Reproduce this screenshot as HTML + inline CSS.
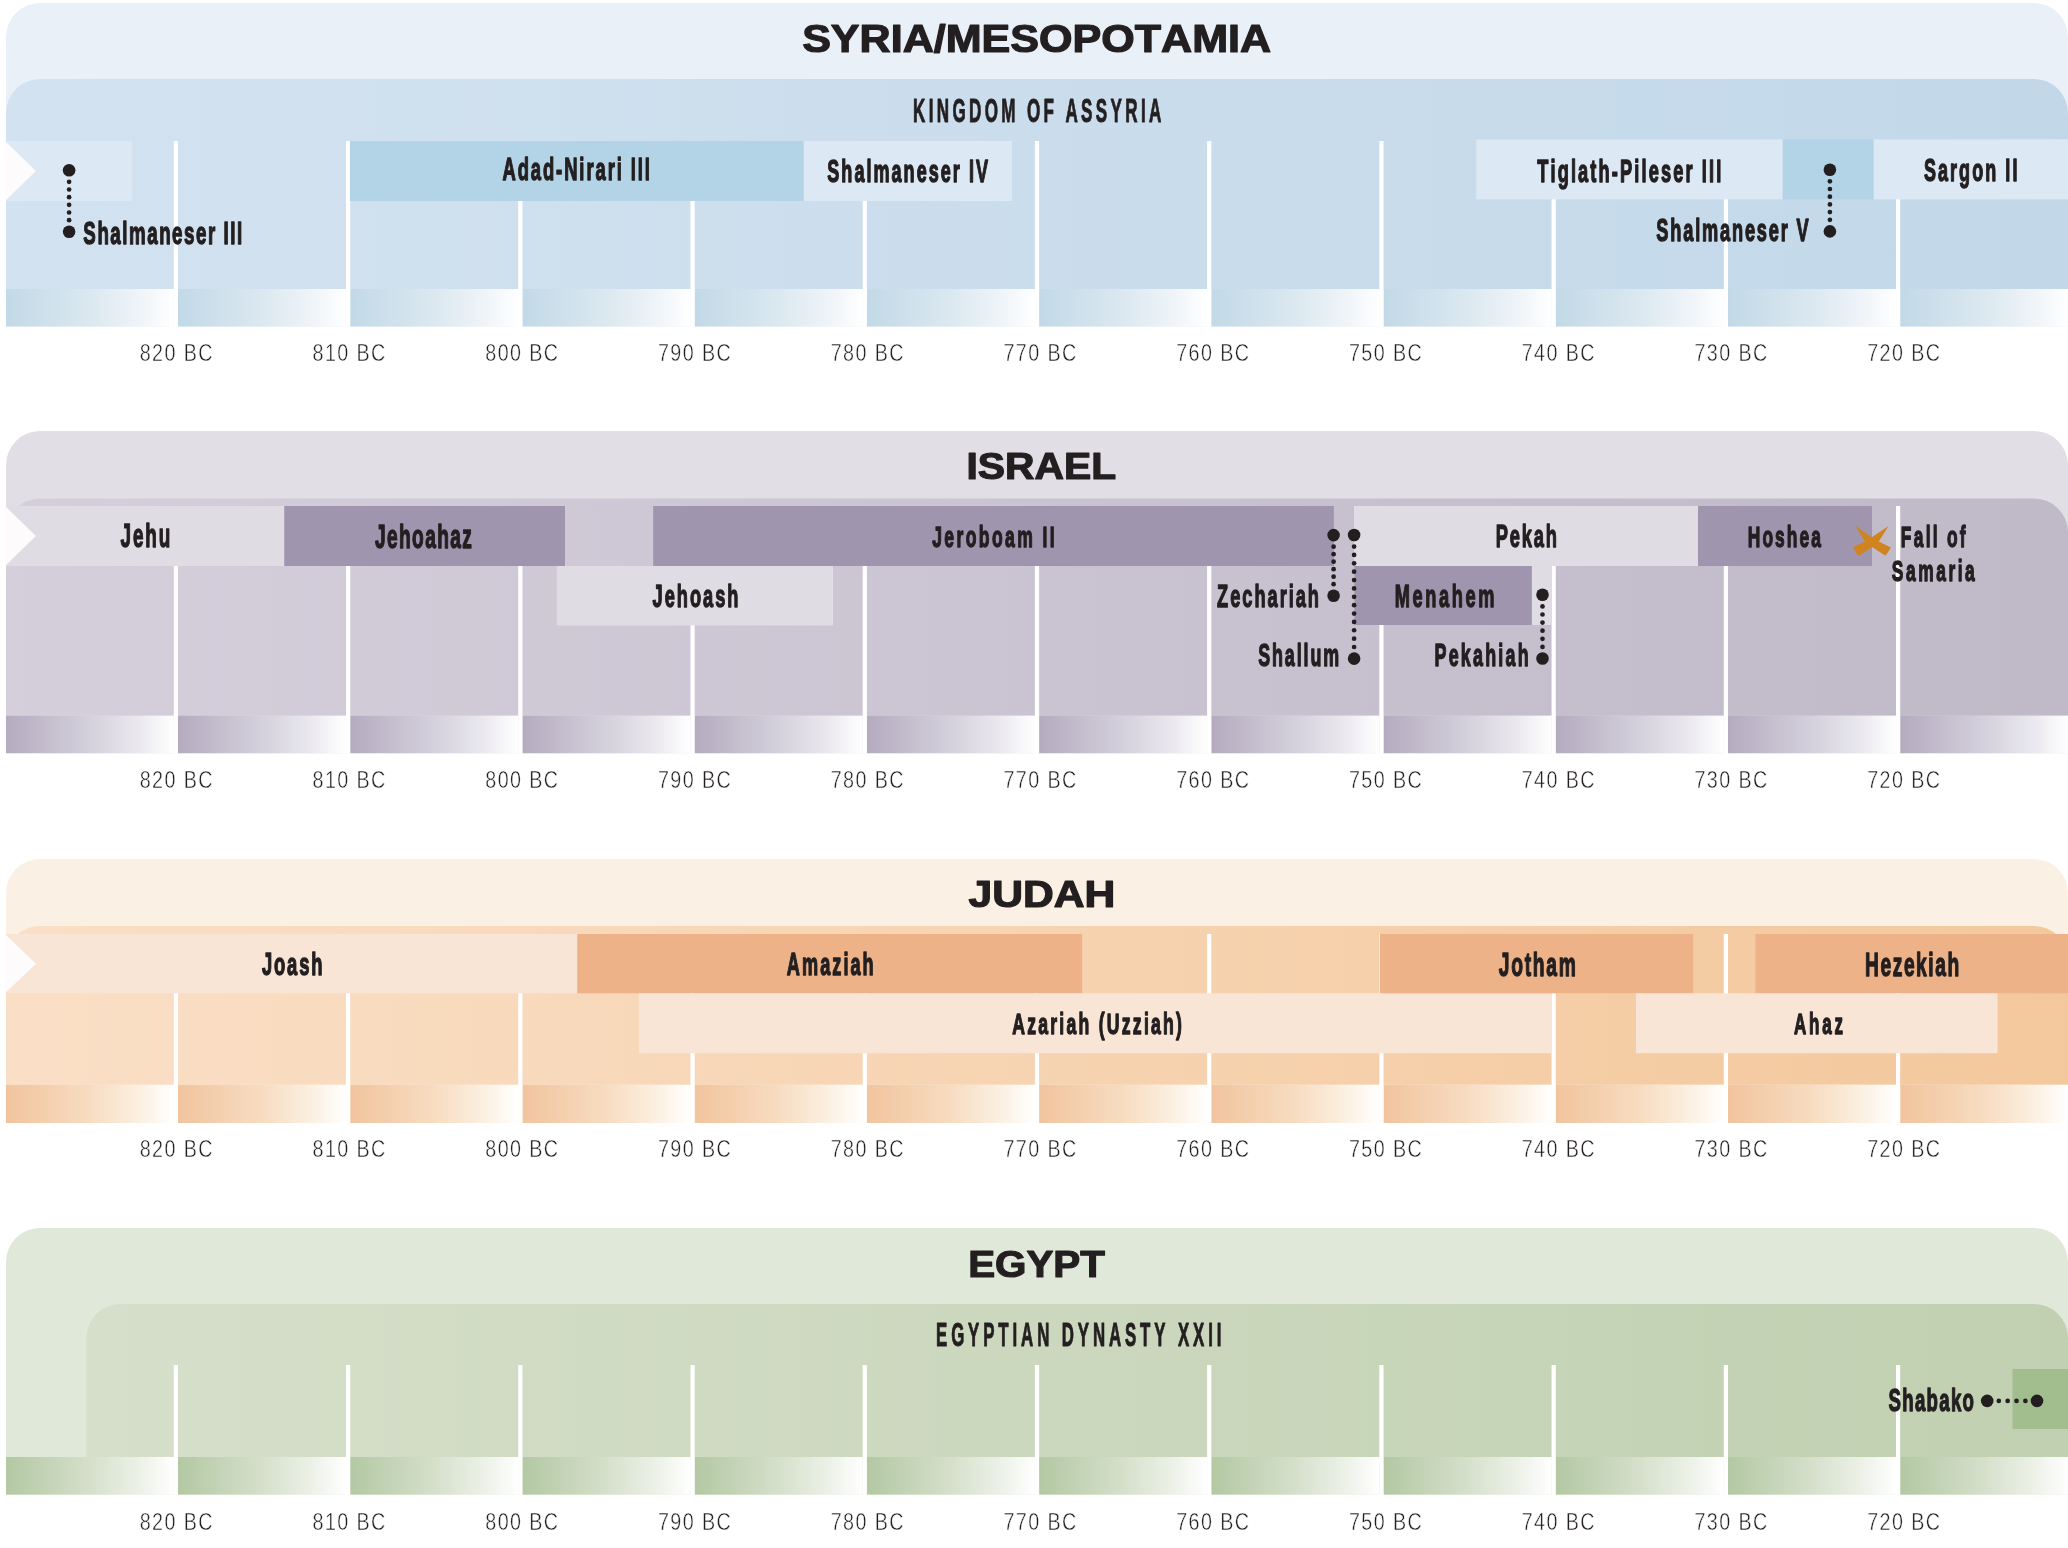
<!DOCTYPE html>
<html><head><meta charset="utf-8"><title>Timeline</title>
<style>html,body{margin:0;padding:0;background:#fff;} svg{display:block;will-change:transform;} text{font-family:"Liberation Sans",sans-serif;}</style>
</head><body>
<svg width="2068" height="1548" viewBox="0 0 2068 1548"><defs><linearGradient id="in_syria" x1="0" y1="0" x2="1" y2="0"><stop offset="0" stop-color="#d3e2f0"/><stop offset="1" stop-color="#c2d8e9"/></linearGradient><linearGradient id="st_syria" x1="0" y1="0" x2="1" y2="0"><stop offset="0" stop-color="#c2d9e7"/><stop offset="0.5" stop-color="#dbe8f0"/><stop offset="0.8" stop-color="#eff4f8"/><stop offset="1" stop-color="#ffffff"/></linearGradient><linearGradient id="in_israel" x1="0" y1="0" x2="1" y2="0"><stop offset="0" stop-color="#d5cfdc"/><stop offset="1" stop-color="#bfb9c8"/></linearGradient><linearGradient id="st_israel" x1="0" y1="0" x2="1" y2="0"><stop offset="0" stop-color="#b4abbf"/><stop offset="0.5" stop-color="#d4d0dc"/><stop offset="0.8" stop-color="#ebe9ef"/><stop offset="1" stop-color="#ffffff"/></linearGradient><linearGradient id="in_judah" x1="0" y1="0" x2="1" y2="0"><stop offset="0" stop-color="#fadfc6"/><stop offset="1" stop-color="#f3c89c"/></linearGradient><linearGradient id="st_judah" x1="0" y1="0" x2="1" y2="0"><stop offset="0" stop-color="#f1c49d"/><stop offset="0.5" stop-color="#f7dcc1"/><stop offset="0.8" stop-color="#fbf0e1"/><stop offset="1" stop-color="#ffffff"/></linearGradient><linearGradient id="in_egypt" x1="0" y1="0" x2="1" y2="0"><stop offset="0" stop-color="#d6dfca"/><stop offset="1" stop-color="#c0d0b0"/></linearGradient><linearGradient id="st_egypt" x1="0" y1="0" x2="1" y2="0"><stop offset="0" stop-color="#b3c8a3"/><stop offset="0.5" stop-color="#d5e0cb"/><stop offset="0.8" stop-color="#edf1e8"/><stop offset="1" stop-color="#ffffff"/></linearGradient></defs><rect width="2068" height="1548" fill="#ffffff"/><g id="syria">
<path d="M6,326.5 L6,37 A34,34 0 0 1 40,3 L2034,3 A34,34 0 0 1 2068,37 L2068,326.5 Z" fill="#e9f0f8"/>
<path d="M6,289 L6,113 A34,34 0 0 1 40,79 L2034,79 A34,34 0 0 1 2068,113 L2068,289 Z" fill="url(#in_syria)"/>
<rect x="6.00" y="289.00" width="167.80" height="37.50" fill="url(#st_syria)"/>
<rect x="178.00" y="289.00" width="168.02" height="37.50" fill="url(#st_syria)"/>
<rect x="350.22" y="289.00" width="168.02" height="37.50" fill="url(#st_syria)"/>
<rect x="522.44" y="289.00" width="168.02" height="37.50" fill="url(#st_syria)"/>
<rect x="694.66" y="289.00" width="168.02" height="37.50" fill="url(#st_syria)"/>
<rect x="866.88" y="289.00" width="168.02" height="37.50" fill="url(#st_syria)"/>
<rect x="1039.10" y="289.00" width="168.02" height="37.50" fill="url(#st_syria)"/>
<rect x="1211.32" y="289.00" width="168.02" height="37.50" fill="url(#st_syria)"/>
<rect x="1383.54" y="289.00" width="168.02" height="37.50" fill="url(#st_syria)"/>
<rect x="1555.76" y="289.00" width="168.02" height="37.50" fill="url(#st_syria)"/>
<rect x="1727.98" y="289.00" width="168.02" height="37.50" fill="url(#st_syria)"/>
<rect x="1900.20" y="289.00" width="167.80" height="37.50" fill="url(#st_syria)"/>
<rect x="173.80" y="141.00" width="4.20" height="186.00" fill="#ffffff"/>
<rect x="346.02" y="141.00" width="4.20" height="186.00" fill="#ffffff"/>
<rect x="518.24" y="141.00" width="4.20" height="186.00" fill="#ffffff"/>
<rect x="690.46" y="141.00" width="4.20" height="186.00" fill="#ffffff"/>
<rect x="862.68" y="141.00" width="4.20" height="186.00" fill="#ffffff"/>
<rect x="1034.90" y="141.00" width="4.20" height="186.00" fill="#ffffff"/>
<rect x="1207.12" y="141.00" width="4.20" height="186.00" fill="#ffffff"/>
<rect x="1379.34" y="141.00" width="4.20" height="186.00" fill="#ffffff"/>
<rect x="1551.56" y="141.00" width="4.20" height="186.00" fill="#ffffff"/>
<rect x="1723.78" y="141.00" width="4.20" height="186.00" fill="#ffffff"/>
<rect x="1896.00" y="141.00" width="4.20" height="186.00" fill="#ffffff"/>
</g>
<g id="israel">
<path d="M6,753.2 L6,465 A34,34 0 0 1 40,431 L2034,431 A34,34 0 0 1 2068,465 L2068,753.2 Z" fill="#e1dee5"/>
<path d="M6,715.7 L6,532.5 A34,34 0 0 1 40,498.5 L2034,498.5 A34,34 0 0 1 2068,532.5 L2068,715.7 Z" fill="url(#in_israel)"/>
<rect x="6.00" y="715.70" width="167.80" height="37.50" fill="url(#st_israel)"/>
<rect x="178.00" y="715.70" width="168.02" height="37.50" fill="url(#st_israel)"/>
<rect x="350.22" y="715.70" width="168.02" height="37.50" fill="url(#st_israel)"/>
<rect x="522.44" y="715.70" width="168.02" height="37.50" fill="url(#st_israel)"/>
<rect x="694.66" y="715.70" width="168.02" height="37.50" fill="url(#st_israel)"/>
<rect x="866.88" y="715.70" width="168.02" height="37.50" fill="url(#st_israel)"/>
<rect x="1039.10" y="715.70" width="168.02" height="37.50" fill="url(#st_israel)"/>
<rect x="1211.32" y="715.70" width="168.02" height="37.50" fill="url(#st_israel)"/>
<rect x="1383.54" y="715.70" width="168.02" height="37.50" fill="url(#st_israel)"/>
<rect x="1555.76" y="715.70" width="168.02" height="37.50" fill="url(#st_israel)"/>
<rect x="1727.98" y="715.70" width="168.02" height="37.50" fill="url(#st_israel)"/>
<rect x="1900.20" y="715.70" width="167.80" height="37.50" fill="url(#st_israel)"/>
<rect x="173.80" y="506.00" width="4.20" height="247.70" fill="#ffffff"/>
<rect x="346.02" y="506.00" width="4.20" height="247.70" fill="#ffffff"/>
<rect x="518.24" y="506.00" width="4.20" height="247.70" fill="#ffffff"/>
<rect x="690.46" y="506.00" width="4.20" height="247.70" fill="#ffffff"/>
<rect x="862.68" y="506.00" width="4.20" height="247.70" fill="#ffffff"/>
<rect x="1034.90" y="506.00" width="4.20" height="247.70" fill="#ffffff"/>
<rect x="1207.12" y="506.00" width="4.20" height="247.70" fill="#ffffff"/>
<rect x="1379.34" y="506.00" width="4.20" height="247.70" fill="#ffffff"/>
<rect x="1551.56" y="506.00" width="4.20" height="247.70" fill="#ffffff"/>
<rect x="1723.78" y="506.00" width="4.20" height="247.70" fill="#ffffff"/>
<rect x="1896.00" y="506.00" width="4.20" height="247.70" fill="#ffffff"/>
</g>
<g id="judah">
<path d="M6,1123 L6,893 A34,34 0 0 1 40,859 L2034,859 A34,34 0 0 1 2068,893 L2068,1123 Z" fill="#faf0e3"/>
<path d="M6,1084.8 L6,960 A34,34 0 0 1 40,926 L2034,926 A34,34 0 0 1 2068,960 L2068,1084.8 Z" fill="url(#in_judah)"/>
<rect x="6.00" y="1084.80" width="167.80" height="38.20" fill="url(#st_judah)"/>
<rect x="178.00" y="1084.80" width="168.02" height="38.20" fill="url(#st_judah)"/>
<rect x="350.22" y="1084.80" width="168.02" height="38.20" fill="url(#st_judah)"/>
<rect x="522.44" y="1084.80" width="168.02" height="38.20" fill="url(#st_judah)"/>
<rect x="694.66" y="1084.80" width="168.02" height="38.20" fill="url(#st_judah)"/>
<rect x="866.88" y="1084.80" width="168.02" height="38.20" fill="url(#st_judah)"/>
<rect x="1039.10" y="1084.80" width="168.02" height="38.20" fill="url(#st_judah)"/>
<rect x="1211.32" y="1084.80" width="168.02" height="38.20" fill="url(#st_judah)"/>
<rect x="1383.54" y="1084.80" width="168.02" height="38.20" fill="url(#st_judah)"/>
<rect x="1555.76" y="1084.80" width="168.02" height="38.20" fill="url(#st_judah)"/>
<rect x="1727.98" y="1084.80" width="168.02" height="38.20" fill="url(#st_judah)"/>
<rect x="1900.20" y="1084.80" width="167.80" height="38.20" fill="url(#st_judah)"/>
<rect x="173.80" y="934.00" width="4.20" height="189.50" fill="#ffffff"/>
<rect x="346.02" y="934.00" width="4.20" height="189.50" fill="#ffffff"/>
<rect x="518.24" y="934.00" width="4.20" height="189.50" fill="#ffffff"/>
<rect x="690.46" y="934.00" width="4.20" height="189.50" fill="#ffffff"/>
<rect x="862.68" y="934.00" width="4.20" height="189.50" fill="#ffffff"/>
<rect x="1034.90" y="934.00" width="4.20" height="189.50" fill="#ffffff"/>
<rect x="1207.12" y="934.00" width="4.20" height="189.50" fill="#ffffff"/>
<rect x="1379.34" y="934.00" width="4.20" height="189.50" fill="#ffffff"/>
<rect x="1551.56" y="934.00" width="4.20" height="189.50" fill="#ffffff"/>
<rect x="1723.78" y="934.00" width="4.20" height="189.50" fill="#ffffff"/>
<rect x="1896.00" y="934.00" width="4.20" height="189.50" fill="#ffffff"/>
</g>
<g id="egypt">
<path d="M6,1494.6 L6,1262 A34,34 0 0 1 40,1228 L2034,1228 A34,34 0 0 1 2068,1262 L2068,1494.6 Z" fill="#e0e8da"/>
<path d="M86.4,1457 L86.4,1338 A34,34 0 0 1 120.4,1304 L2034,1304 A34,34 0 0 1 2068,1338 L2068,1457 Z" fill="url(#in_egypt)"/>
<rect x="6.00" y="1457.00" width="167.80" height="37.60" fill="url(#st_egypt)"/>
<rect x="178.00" y="1457.00" width="168.02" height="37.60" fill="url(#st_egypt)"/>
<rect x="350.22" y="1457.00" width="168.02" height="37.60" fill="url(#st_egypt)"/>
<rect x="522.44" y="1457.00" width="168.02" height="37.60" fill="url(#st_egypt)"/>
<rect x="694.66" y="1457.00" width="168.02" height="37.60" fill="url(#st_egypt)"/>
<rect x="866.88" y="1457.00" width="168.02" height="37.60" fill="url(#st_egypt)"/>
<rect x="1039.10" y="1457.00" width="168.02" height="37.60" fill="url(#st_egypt)"/>
<rect x="1211.32" y="1457.00" width="168.02" height="37.60" fill="url(#st_egypt)"/>
<rect x="1383.54" y="1457.00" width="168.02" height="37.60" fill="url(#st_egypt)"/>
<rect x="1555.76" y="1457.00" width="168.02" height="37.60" fill="url(#st_egypt)"/>
<rect x="1727.98" y="1457.00" width="168.02" height="37.60" fill="url(#st_egypt)"/>
<rect x="1900.20" y="1457.00" width="167.80" height="37.60" fill="url(#st_egypt)"/>
<rect x="173.80" y="1365.00" width="4.20" height="130.10" fill="#ffffff"/>
<rect x="346.02" y="1365.00" width="4.20" height="130.10" fill="#ffffff"/>
<rect x="518.24" y="1365.00" width="4.20" height="130.10" fill="#ffffff"/>
<rect x="690.46" y="1365.00" width="4.20" height="130.10" fill="#ffffff"/>
<rect x="862.68" y="1365.00" width="4.20" height="130.10" fill="#ffffff"/>
<rect x="1034.90" y="1365.00" width="4.20" height="130.10" fill="#ffffff"/>
<rect x="1207.12" y="1365.00" width="4.20" height="130.10" fill="#ffffff"/>
<rect x="1379.34" y="1365.00" width="4.20" height="130.10" fill="#ffffff"/>
<rect x="1551.56" y="1365.00" width="4.20" height="130.10" fill="#ffffff"/>
<rect x="1723.78" y="1365.00" width="4.20" height="130.10" fill="#ffffff"/>
<rect x="1896.00" y="1365.00" width="4.20" height="130.10" fill="#ffffff"/>
</g>
<rect x="6.00" y="141.00" width="126.00" height="60.00" fill="#dce8f3"/>
<polygon points="5,141 36,171.0 5,201" fill="#fdfbfc"/>
<rect x="350.00" y="141.00" width="453.80" height="60.00" fill="#b3d3e7"/>
<rect x="803.80" y="141.00" width="208.20" height="60.00" fill="#dce8f3"/>
<rect x="1476.20" y="139.40" width="306.60" height="60.00" fill="#dce8f3"/>
<rect x="1782.80" y="139.40" width="90.90" height="60.00" fill="#b3d3e7"/>
<rect x="1873.70" y="139.40" width="194.30" height="60.00" fill="#dce8f3"/>
<rect x="6.00" y="506.00" width="278.30" height="60.00" fill="#e0dce3"/>
<polygon points="5,506 36,536.0 5,566" fill="#fdfbfc"/>
<rect x="284.30" y="506.00" width="280.70" height="60.00" fill="#9f95ae"/>
<rect x="653.20" y="506.00" width="680.60" height="60.00" fill="#9f95ae"/>
<rect x="556.80" y="566.00" width="276.20" height="59.40" fill="#e0dce3"/>
<rect x="1354.00" y="506.00" width="344.00" height="60.00" fill="#e0dce3"/>
<rect x="1698.00" y="506.00" width="174.00" height="60.00" fill="#9f95ae"/>
<rect x="1354.50" y="566.00" width="177.40" height="59.00" fill="#9f95ae"/>
<rect x="1531.90" y="566.00" width="20.00" height="59.00" fill="#e0dce3"/>
<rect x="6.00" y="934.00" width="571.30" height="59.30" fill="#f8e5d6"/>
<polygon points="5,934 36,963.65 5,993.3" fill="#fdfbfc"/>
<rect x="577.30" y="934.00" width="504.90" height="59.30" fill="#edb287"/>
<rect x="638.90" y="993.30" width="912.90" height="59.90" fill="#f8e5d6"/>
<rect x="1379.90" y="934.00" width="313.20" height="59.30" fill="#edb287"/>
<rect x="1755.40" y="934.00" width="312.60" height="59.30" fill="#edb287"/>
<rect x="1636.00" y="993.30" width="361.50" height="59.90" fill="#f8e5d6"/>
<rect x="2012.50" y="1369.00" width="55.50" height="60.00" fill="#a2bd8e"/>
<g fill="#231f20" font-family="Liberation Sans, sans-serif" style="font-kerning:none"><text transform="translate(802.13,51.90) scale(1.1144,1)" font-size="38.66" font-weight="bold" stroke="#231f20" stroke-width="1.2" stroke-linejoin="round">SYRIA/MESOPOTAMIA</text>
<text transform="translate(966.43,479.40) scale(1.0970,1)" font-size="37.21" font-weight="bold" stroke="#231f20" stroke-width="1.2" stroke-linejoin="round">ISRAEL</text>
<text transform="translate(968.55,907.00) scale(1.1544,1)" font-size="36.92" font-weight="bold" stroke="#231f20" stroke-width="1.2" stroke-linejoin="round">JUDAH</text>
<text transform="translate(968.14,1276.80) scale(1.0723,1)" font-size="37.65" font-weight="bold" stroke="#231f20" stroke-width="1.2" stroke-linejoin="round">EGYPT</text>
<text transform="translate(913.01,122.10) scale(0.5100,1)" font-size="33.43" font-weight="bold" letter-spacing="6.590" stroke="#231f20" stroke-width="1.0" stroke-linejoin="round">KINGDOM OF ASSYRIA</text>
<text transform="translate(936.03,1345.90) scale(0.5100,1)" font-size="32.99" font-weight="bold" letter-spacing="7.644" stroke="#231f20" stroke-width="1.0" stroke-linejoin="round">EGYPTIAN DYNASTY XXII</text>
<text transform="translate(83.37,243.70) scale(0.5800,1)" font-size="32.27" font-weight="bold" letter-spacing="2.656" stroke="#231f20" stroke-width="1.4" stroke-linejoin="round">Shalmaneser III</text>
<text transform="translate(502.45,180.30) scale(0.5800,1)" font-size="31.69" font-weight="bold" letter-spacing="3.334" stroke="#231f20" stroke-width="1.4" stroke-linejoin="round">Adad-Nirari III</text>
<text transform="translate(827.29,182.10) scale(0.5800,1)" font-size="31.11" font-weight="bold" letter-spacing="3.496" stroke="#231f20" stroke-width="1.4" stroke-linejoin="round">Shalmaneser IV</text>
<text transform="translate(1537.20,181.60) scale(0.5800,1)" font-size="31.40" font-weight="bold" letter-spacing="3.678" stroke="#231f20" stroke-width="1.4" stroke-linejoin="round">Tiglath-Pileser III</text>
<text transform="translate(1923.89,181.30) scale(0.5800,1)" font-size="30.96" font-weight="bold" letter-spacing="3.595" stroke="#231f20" stroke-width="1.4" stroke-linejoin="round">Sargon II</text>
<text transform="translate(1656.28,241.30) scale(0.5800,1)" font-size="31.40" font-weight="bold" letter-spacing="3.142" stroke="#231f20" stroke-width="1.4" stroke-linejoin="round">Shalmaneser V</text>
<text transform="translate(120.62,547.30) scale(0.5800,1)" font-size="32.56" font-weight="bold" letter-spacing="3.186" stroke="#231f20" stroke-width="1.4" stroke-linejoin="round">Jehu</text>
<text transform="translate(374.92,547.60) scale(0.5800,1)" font-size="32.99" font-weight="bold" letter-spacing="2.428" stroke="#231f20" stroke-width="1.4" stroke-linejoin="round">Jehoahaz</text>
<text transform="translate(932.14,547.00) scale(0.5800,1)" font-size="30.23" font-weight="bold" letter-spacing="4.173" stroke="#231f20" stroke-width="1.4" stroke-linejoin="round">Jeroboam II</text>
<text transform="translate(652.53,607.10) scale(0.5800,1)" font-size="31.40" font-weight="bold" letter-spacing="3.452" stroke="#231f20" stroke-width="1.4" stroke-linejoin="round">Jehoash</text>
<text transform="translate(1217.06,606.70) scale(0.5800,1)" font-size="31.40" font-weight="bold" letter-spacing="3.434" stroke="#231f20" stroke-width="1.4" stroke-linejoin="round">Zechariah</text>
<text transform="translate(1258.19,665.90) scale(0.5800,1)" font-size="30.81" font-weight="bold" letter-spacing="3.303" stroke="#231f20" stroke-width="1.4" stroke-linejoin="round">Shallum</text>
<text transform="translate(1495.78,547.20) scale(0.5800,1)" font-size="31.54" font-weight="bold" letter-spacing="3.124" stroke="#231f20" stroke-width="1.4" stroke-linejoin="round">Pekah</text>
<text transform="translate(1394.69,606.70) scale(0.5800,1)" font-size="31.40" font-weight="bold" letter-spacing="4.554" stroke="#231f20" stroke-width="1.4" stroke-linejoin="round">Menahem</text>
<text transform="translate(1434.51,665.90) scale(0.5800,1)" font-size="30.81" font-weight="bold" letter-spacing="3.845" stroke="#231f20" stroke-width="1.4" stroke-linejoin="round">Pekahiah</text>
<text transform="translate(1747.74,547.10) scale(0.5800,1)" font-size="29.94" font-weight="bold" letter-spacing="3.623" stroke="#231f20" stroke-width="1.4" stroke-linejoin="round">Hoshea</text>
<text transform="translate(1900.84,547.10) scale(0.5800,1)" font-size="29.94" font-weight="bold" letter-spacing="3.903" stroke="#231f20" stroke-width="1.4" stroke-linejoin="round">Fall of</text>
<text transform="translate(1891.81,580.70) scale(0.5800,1)" font-size="29.94" font-weight="bold" letter-spacing="4.424" stroke="#231f20" stroke-width="1.4" stroke-linejoin="round">Samaria</text>
<text transform="translate(261.93,975.30) scale(0.5800,1)" font-size="31.69" font-weight="bold" letter-spacing="3.185" stroke="#231f20" stroke-width="1.4" stroke-linejoin="round">Joash</text>
<text transform="translate(786.85,975.20) scale(0.5800,1)" font-size="31.25" font-weight="bold" letter-spacing="3.542" stroke="#231f20" stroke-width="1.4" stroke-linejoin="round">Amaziah</text>
<text transform="translate(1012.17,1034.40) scale(0.5800,1)" font-size="30.38" font-weight="bold" letter-spacing="3.877" stroke="#231f20" stroke-width="1.4" stroke-linejoin="round">Azariah (Uzziah)</text>
<text transform="translate(1498.82,976.00) scale(0.5800,1)" font-size="33.14" font-weight="bold" letter-spacing="2.971" stroke="#231f20" stroke-width="1.4" stroke-linejoin="round">Jotham</text>
<text transform="translate(1865.12,976.00) scale(0.5800,1)" font-size="33.14" font-weight="bold" letter-spacing="2.644" stroke="#231f20" stroke-width="1.4" stroke-linejoin="round">Hezekiah</text>
<text transform="translate(1794.08,1034.20) scale(0.5800,1)" font-size="29.22" font-weight="bold" letter-spacing="4.792" stroke="#231f20" stroke-width="1.4" stroke-linejoin="round">Ahaz</text>
<text transform="translate(1888.47,1411.00) scale(0.5800,1)" font-size="32.12" font-weight="bold" letter-spacing="2.270" stroke="#231f20" stroke-width="1.4" stroke-linejoin="round">Shabako</text>
<text transform="translate(139.76,361.43) scale(0.8000,1)" font-size="24.64" font-weight="normal" letter-spacing="1.757" stroke="#ffffff" stroke-width="0.45" stroke-linejoin="round">820 BC</text>
<text transform="translate(312.52,361.43) scale(0.8000,1)" font-size="24.64" font-weight="normal" letter-spacing="1.757" stroke="#ffffff" stroke-width="0.45" stroke-linejoin="round">810 BC</text>
<text transform="translate(485.28,361.43) scale(0.8000,1)" font-size="24.64" font-weight="normal" letter-spacing="1.757" stroke="#ffffff" stroke-width="0.45" stroke-linejoin="round">800 BC</text>
<text transform="translate(657.89,361.43) scale(0.8000,1)" font-size="24.64" font-weight="normal" letter-spacing="1.795" stroke="#ffffff" stroke-width="0.45" stroke-linejoin="round">790 BC</text>
<text transform="translate(830.65,361.43) scale(0.8000,1)" font-size="24.64" font-weight="normal" letter-spacing="1.795" stroke="#ffffff" stroke-width="0.45" stroke-linejoin="round">780 BC</text>
<text transform="translate(1003.41,361.43) scale(0.8000,1)" font-size="24.64" font-weight="normal" letter-spacing="1.795" stroke="#ffffff" stroke-width="0.45" stroke-linejoin="round">770 BC</text>
<text transform="translate(1176.17,361.43) scale(0.8000,1)" font-size="24.64" font-weight="normal" letter-spacing="1.795" stroke="#ffffff" stroke-width="0.45" stroke-linejoin="round">760 BC</text>
<text transform="translate(1348.93,361.43) scale(0.8000,1)" font-size="24.64" font-weight="normal" letter-spacing="1.795" stroke="#ffffff" stroke-width="0.45" stroke-linejoin="round">750 BC</text>
<text transform="translate(1521.69,361.43) scale(0.8000,1)" font-size="24.64" font-weight="normal" letter-spacing="1.795" stroke="#ffffff" stroke-width="0.45" stroke-linejoin="round">740 BC</text>
<text transform="translate(1694.45,361.43) scale(0.8000,1)" font-size="24.64" font-weight="normal" letter-spacing="1.795" stroke="#ffffff" stroke-width="0.45" stroke-linejoin="round">730 BC</text>
<text transform="translate(1867.21,361.43) scale(0.8000,1)" font-size="24.64" font-weight="normal" letter-spacing="1.795" stroke="#ffffff" stroke-width="0.45" stroke-linejoin="round">720 BC</text>
<text transform="translate(139.76,788.02) scale(0.8000,1)" font-size="24.64" font-weight="normal" letter-spacing="1.757" stroke="#ffffff" stroke-width="0.45" stroke-linejoin="round">820 BC</text>
<text transform="translate(312.52,788.02) scale(0.8000,1)" font-size="24.64" font-weight="normal" letter-spacing="1.757" stroke="#ffffff" stroke-width="0.45" stroke-linejoin="round">810 BC</text>
<text transform="translate(485.28,788.02) scale(0.8000,1)" font-size="24.64" font-weight="normal" letter-spacing="1.757" stroke="#ffffff" stroke-width="0.45" stroke-linejoin="round">800 BC</text>
<text transform="translate(657.89,788.02) scale(0.8000,1)" font-size="24.64" font-weight="normal" letter-spacing="1.795" stroke="#ffffff" stroke-width="0.45" stroke-linejoin="round">790 BC</text>
<text transform="translate(830.65,788.02) scale(0.8000,1)" font-size="24.64" font-weight="normal" letter-spacing="1.795" stroke="#ffffff" stroke-width="0.45" stroke-linejoin="round">780 BC</text>
<text transform="translate(1003.41,788.02) scale(0.8000,1)" font-size="24.64" font-weight="normal" letter-spacing="1.795" stroke="#ffffff" stroke-width="0.45" stroke-linejoin="round">770 BC</text>
<text transform="translate(1176.17,788.02) scale(0.8000,1)" font-size="24.64" font-weight="normal" letter-spacing="1.795" stroke="#ffffff" stroke-width="0.45" stroke-linejoin="round">760 BC</text>
<text transform="translate(1348.93,788.02) scale(0.8000,1)" font-size="24.64" font-weight="normal" letter-spacing="1.795" stroke="#ffffff" stroke-width="0.45" stroke-linejoin="round">750 BC</text>
<text transform="translate(1521.69,788.02) scale(0.8000,1)" font-size="24.64" font-weight="normal" letter-spacing="1.795" stroke="#ffffff" stroke-width="0.45" stroke-linejoin="round">740 BC</text>
<text transform="translate(1694.45,788.02) scale(0.8000,1)" font-size="24.64" font-weight="normal" letter-spacing="1.795" stroke="#ffffff" stroke-width="0.45" stroke-linejoin="round">730 BC</text>
<text transform="translate(1867.21,788.02) scale(0.8000,1)" font-size="24.64" font-weight="normal" letter-spacing="1.795" stroke="#ffffff" stroke-width="0.45" stroke-linejoin="round">720 BC</text>
<text transform="translate(139.76,1156.52) scale(0.8000,1)" font-size="24.64" font-weight="normal" letter-spacing="1.757" stroke="#ffffff" stroke-width="0.45" stroke-linejoin="round">820 BC</text>
<text transform="translate(312.52,1156.52) scale(0.8000,1)" font-size="24.64" font-weight="normal" letter-spacing="1.757" stroke="#ffffff" stroke-width="0.45" stroke-linejoin="round">810 BC</text>
<text transform="translate(485.28,1156.52) scale(0.8000,1)" font-size="24.64" font-weight="normal" letter-spacing="1.757" stroke="#ffffff" stroke-width="0.45" stroke-linejoin="round">800 BC</text>
<text transform="translate(657.89,1156.52) scale(0.8000,1)" font-size="24.64" font-weight="normal" letter-spacing="1.795" stroke="#ffffff" stroke-width="0.45" stroke-linejoin="round">790 BC</text>
<text transform="translate(830.65,1156.52) scale(0.8000,1)" font-size="24.64" font-weight="normal" letter-spacing="1.795" stroke="#ffffff" stroke-width="0.45" stroke-linejoin="round">780 BC</text>
<text transform="translate(1003.41,1156.52) scale(0.8000,1)" font-size="24.64" font-weight="normal" letter-spacing="1.795" stroke="#ffffff" stroke-width="0.45" stroke-linejoin="round">770 BC</text>
<text transform="translate(1176.17,1156.52) scale(0.8000,1)" font-size="24.64" font-weight="normal" letter-spacing="1.795" stroke="#ffffff" stroke-width="0.45" stroke-linejoin="round">760 BC</text>
<text transform="translate(1348.93,1156.52) scale(0.8000,1)" font-size="24.64" font-weight="normal" letter-spacing="1.795" stroke="#ffffff" stroke-width="0.45" stroke-linejoin="round">750 BC</text>
<text transform="translate(1521.69,1156.52) scale(0.8000,1)" font-size="24.64" font-weight="normal" letter-spacing="1.795" stroke="#ffffff" stroke-width="0.45" stroke-linejoin="round">740 BC</text>
<text transform="translate(1694.45,1156.52) scale(0.8000,1)" font-size="24.64" font-weight="normal" letter-spacing="1.795" stroke="#ffffff" stroke-width="0.45" stroke-linejoin="round">730 BC</text>
<text transform="translate(1867.21,1156.52) scale(0.8000,1)" font-size="24.64" font-weight="normal" letter-spacing="1.795" stroke="#ffffff" stroke-width="0.45" stroke-linejoin="round">720 BC</text>
<text transform="translate(139.76,1529.82) scale(0.8000,1)" font-size="24.64" font-weight="normal" letter-spacing="1.757" stroke="#ffffff" stroke-width="0.45" stroke-linejoin="round">820 BC</text>
<text transform="translate(312.52,1529.82) scale(0.8000,1)" font-size="24.64" font-weight="normal" letter-spacing="1.757" stroke="#ffffff" stroke-width="0.45" stroke-linejoin="round">810 BC</text>
<text transform="translate(485.28,1529.82) scale(0.8000,1)" font-size="24.64" font-weight="normal" letter-spacing="1.757" stroke="#ffffff" stroke-width="0.45" stroke-linejoin="round">800 BC</text>
<text transform="translate(657.89,1529.82) scale(0.8000,1)" font-size="24.64" font-weight="normal" letter-spacing="1.795" stroke="#ffffff" stroke-width="0.45" stroke-linejoin="round">790 BC</text>
<text transform="translate(830.65,1529.82) scale(0.8000,1)" font-size="24.64" font-weight="normal" letter-spacing="1.795" stroke="#ffffff" stroke-width="0.45" stroke-linejoin="round">780 BC</text>
<text transform="translate(1003.41,1529.82) scale(0.8000,1)" font-size="24.64" font-weight="normal" letter-spacing="1.795" stroke="#ffffff" stroke-width="0.45" stroke-linejoin="round">770 BC</text>
<text transform="translate(1176.17,1529.82) scale(0.8000,1)" font-size="24.64" font-weight="normal" letter-spacing="1.795" stroke="#ffffff" stroke-width="0.45" stroke-linejoin="round">760 BC</text>
<text transform="translate(1348.93,1529.82) scale(0.8000,1)" font-size="24.64" font-weight="normal" letter-spacing="1.795" stroke="#ffffff" stroke-width="0.45" stroke-linejoin="round">750 BC</text>
<text transform="translate(1521.69,1529.82) scale(0.8000,1)" font-size="24.64" font-weight="normal" letter-spacing="1.795" stroke="#ffffff" stroke-width="0.45" stroke-linejoin="round">740 BC</text>
<text transform="translate(1694.45,1529.82) scale(0.8000,1)" font-size="24.64" font-weight="normal" letter-spacing="1.795" stroke="#ffffff" stroke-width="0.45" stroke-linejoin="round">730 BC</text>
<text transform="translate(1867.21,1529.82) scale(0.8000,1)" font-size="24.64" font-weight="normal" letter-spacing="1.795" stroke="#ffffff" stroke-width="0.45" stroke-linejoin="round">720 BC</text></g>
<g fill="#231f20"><circle cx="69.1" cy="170.2" r="6.3"/><circle cx="69.1" cy="231.8" r="6.3"/><circle cx="69.10" cy="181.80" r="2.35"/><circle cx="69.10" cy="189.48" r="2.35"/><circle cx="69.10" cy="197.16" r="2.35"/><circle cx="69.10" cy="204.84" r="2.35"/><circle cx="69.10" cy="212.52" r="2.35"/><circle cx="69.10" cy="220.20" r="2.35"/><circle cx="1829.9" cy="169.7" r="6.3"/><circle cx="1829.9" cy="231.4" r="6.3"/><circle cx="1829.90" cy="181.30" r="2.35"/><circle cx="1829.90" cy="189.00" r="2.35"/><circle cx="1829.90" cy="196.70" r="2.35"/><circle cx="1829.90" cy="204.40" r="2.35"/><circle cx="1829.90" cy="212.10" r="2.35"/><circle cx="1829.90" cy="219.80" r="2.35"/><circle cx="1333.6" cy="535.1" r="6.3"/><circle cx="1333.6" cy="595.8" r="6.3"/><circle cx="1333.60" cy="546.70" r="2.35"/><circle cx="1333.60" cy="554.20" r="2.35"/><circle cx="1333.60" cy="561.70" r="2.35"/><circle cx="1333.60" cy="569.20" r="2.35"/><circle cx="1333.60" cy="576.70" r="2.35"/><circle cx="1333.60" cy="584.20" r="2.35"/><circle cx="1354.1" cy="535" r="6.3"/><circle cx="1354.1" cy="658.6" r="6.3"/><circle cx="1354.10" cy="546.60" r="2.35"/><circle cx="1354.10" cy="554.97" r="2.35"/><circle cx="1354.10" cy="563.33" r="2.35"/><circle cx="1354.10" cy="571.70" r="2.35"/><circle cx="1354.10" cy="580.07" r="2.35"/><circle cx="1354.10" cy="588.43" r="2.35"/><circle cx="1354.10" cy="596.80" r="2.35"/><circle cx="1354.10" cy="605.17" r="2.35"/><circle cx="1354.10" cy="613.53" r="2.35"/><circle cx="1354.10" cy="621.90" r="2.35"/><circle cx="1354.10" cy="630.27" r="2.35"/><circle cx="1354.10" cy="638.63" r="2.35"/><circle cx="1354.10" cy="647.00" r="2.35"/><circle cx="1542.5" cy="594.8" r="6.3"/><circle cx="1542.5" cy="658.5" r="6.3"/><circle cx="1542.50" cy="606.40" r="2.35"/><circle cx="1542.50" cy="614.50" r="2.35"/><circle cx="1542.50" cy="622.60" r="2.35"/><circle cx="1542.50" cy="630.70" r="2.35"/><circle cx="1542.50" cy="638.80" r="2.35"/><circle cx="1542.50" cy="646.90" r="2.35"/><circle cx="1987.2" cy="1400.9" r="6.3"/><circle cx="2037" cy="1400.9" r="6.3"/><circle cx="1998.80" cy="1400.90" r="2.35"/><circle cx="2007.67" cy="1400.90" r="2.35"/><circle cx="2016.53" cy="1400.90" r="2.35"/><circle cx="2025.40" cy="1400.90" r="2.35"/></g>
<path fill="#d0841f" d="M1855.2,525.7 L1871.8,537.3 L1878.7,541.5 L1891.0,547.5 L1885.5,555.7 L1872.1,547.0 L1865.0,541.5 Z"/><path fill="#d0841f" d="M1888.6,526.0 L1871.8,537.3 L1865.0,541.5 L1852.9,547.3 L1858.4,555.9 L1872.1,547.0 L1878.7,541.5 Z"/></svg>
</body></html>
